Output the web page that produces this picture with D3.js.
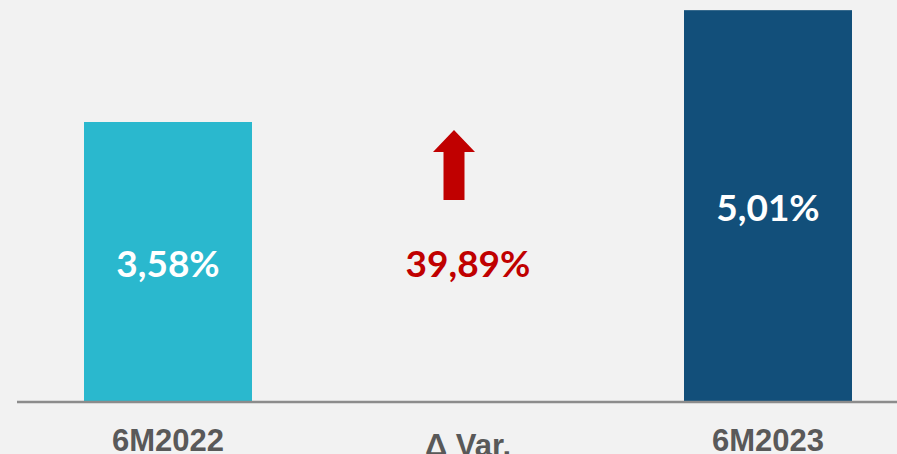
<!DOCTYPE html>
<html>
<head>
<meta charset="utf-8">
<title>6M2022 vs 6M2023</title>
<script src="https://cdn.jsdelivr.net/npm/d3@7"></script>
<style>
  html, body { margin: 0; padding: 0; background: #f2f2f2; }
  svg { display: block; }
</style>
</head>
<body>
<div id="chart"></div>
<script>
// data
const categories = ['6M2022', 'Δ Var.', '6M2023']
const periods = ['6M2022', '6M2023']
const values = [3.58, 5.01]
const valueLabels = ['3,58%', '5,01%']
const variation = '39,89%'
const barColors = ['#2ab8ce', '#124f7a']

const width = 897, height = 454
const baseY = 402

const svg = d3.select('#chart').append('svg')
  .attr('width', width)
  .attr('height', height)

svg.append('rect')
  .attr('width', width).attr('height', height)
  .attr('fill', '#f2f2f2')

const x = d3.scaleBand()
  .domain(categories)
  .range([-48, 984])
  .padding(0.44)

const y = d3.scaleLinear()
  .domain([0, 5.14])
  .range([baseY, 0])

// bars
svg.selectAll('rect.bar')
  .data(periods)
  .enter()
  .append('rect')
  .attr('class', 'bar')
  .attr('x', d => x(d))
  .attr('y', (d, i) => y(values[i]))
  .attr('width', x.bandwidth())
  .attr('height', (d, i) => baseY - y(values[i]))
  .attr('fill', (d, i) => barColors[i])

// value labels in the bars
svg.selectAll('text.val')
  .data(periods)
  .enter()
  .append('text')
  .attr('class', 'val')
  .attr('x', d => x(d) + x.bandwidth() / 2)
  .attr('y', (d, i) => (y(values[i]) + baseY) / 2 + 15)
  .attr('text-anchor', 'middle')
  .attr('font-family', 'Lato, sans-serif')
  .attr('font-weight', 'bold')
  .attr('font-size', 37)
  .attr('fill', '#ffffff')
  .text((d, i) => valueLabels[i])

// variation in the middle
const mid = x('Δ Var.') + x.bandwidth() / 2
svg.append('text')
  .attr('x', mid)
  .attr('y', (y(values[0]) + baseY) / 2 + 15)
  .attr('text-anchor', 'middle')
  .attr('font-family', 'Lato, sans-serif')
  .attr('font-weight', 'bold')
  .attr('font-size', 37)
  .attr('fill', '#c00000')
  .text(variation)

// up arrow
svg.append('path')
  .attr('transform', `translate(${mid - 14},200)`)
  .attr('d', 'M-10.5,0 L10.5,0 L10.5,-48 L21,-48 L0,-70 L-21,-48 L-10.5,-48 Z')
  .attr('fill', '#c00000')

// baseline
svg.append('line')
  .attr('x1', 17).attr('x2', width)
  .attr('y1', baseY).attr('y2', baseY)
  .attr('stroke', '#8c8c8c')
  .attr('stroke-width', 2.5)

// category labels
svg.selectAll('text.cat')
  .data(categories)
  .enter()
  .append('text')
  .attr('class', 'cat')
  .attr('x', d => x(d) + x.bandwidth() / 2)
  .attr('y', (d, i) => i == 1 ? 456 : 451)
  .attr('text-anchor', 'middle')
  .attr('font-family', '"Liberation Sans", Arial, sans-serif')
  .attr('font-weight', 'bold')
  .attr('font-size', 31)
  .attr('fill', '#595959')
  .text(d => d)
</script>
</body>
</html>
